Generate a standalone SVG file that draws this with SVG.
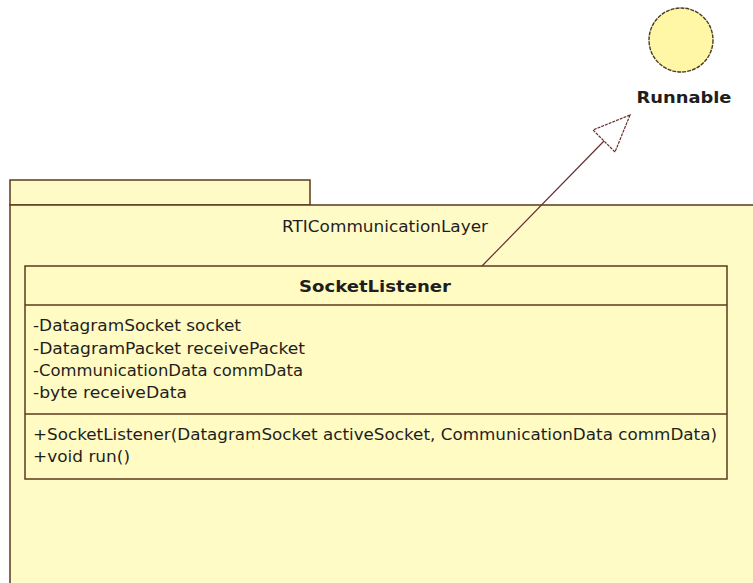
<svg xmlns="http://www.w3.org/2000/svg" width="753" height="583" viewBox="0 0 753 583">
  <style>
    .pkg { fill: #FFFBC6; stroke: #5C3A1E; stroke-width: 1.5; }
    .cls { fill: #FFFBC2; stroke: #5C3A1E; stroke-width: 1.5; }
    .sep { stroke: #5C3A1E; stroke-width: 1.5; }
    .txt { font-family: "DejaVu Sans", "Liberation Sans", sans-serif; font-size: 16.5px; fill: #1E1E1E; }
    .bold { font-weight: bold; }
    .edge { fill: none; stroke: #6A2E2E; stroke-width: 1.2; }
    .head { fill: #FFFFFF; stroke: #6A2E2E; stroke-width: 1.2; stroke-dasharray: 3 1; }
  </style>

  <rect width="753" height="583" fill="#FFFFFF"/>

  <!-- package RTICommunicationLayer -->
  <g id="pkg-RTICommunicationLayer">
    <rect class="pkg" x="10" y="180" width="300" height="25"/>
    <rect class="pkg" x="10" y="205" width="760" height="400"/>
    <text class="txt" x="385" y="232" text-anchor="middle" textLength="206" lengthAdjust="spacingAndGlyphs">RTICommunicationLayer</text>
  </g>

  <!-- interface Runnable (lollipop) -->
  <g id="iface-Runnable">
    <circle cx="681" cy="40" r="32" fill="#FFF6A6" stroke="#4A3A20" stroke-width="1.4" stroke-dasharray="4 1"/>
    <text class="txt bold" x="684" y="103" text-anchor="middle" textLength="95" lengthAdjust="spacingAndGlyphs">Runnable</text>
  </g>

  <!-- class SocketListener -->
  <g id="cls-SocketListener">
    <rect class="cls" x="25" y="266" width="702" height="213"/>
    <line class="sep" x1="25" y1="305" x2="727" y2="305"/>
    <line class="sep" x1="25" y1="414" x2="727" y2="414"/>
    <text class="txt bold" x="375" y="292" text-anchor="middle" textLength="152" lengthAdjust="spacingAndGlyphs">SocketListener</text>
    <text class="txt" x="33" y="331" textLength="208" lengthAdjust="spacingAndGlyphs">-DatagramSocket socket</text>
    <text class="txt" x="33" y="354" textLength="272" lengthAdjust="spacingAndGlyphs">-DatagramPacket receivePacket</text>
    <text class="txt" x="33" y="376" textLength="270" lengthAdjust="spacingAndGlyphs">-CommunicationData commData</text>
    <text class="txt" x="33" y="398" textLength="154" lengthAdjust="spacingAndGlyphs">-byte receiveData</text>
    <text class="txt" x="33" y="440" textLength="684" lengthAdjust="spacingAndGlyphs">+SocketListener(DatagramSocket activeSocket, CommunicationData commData)</text>
    <text class="txt" x="33" y="462" textLength="97" lengthAdjust="spacingAndGlyphs">+void run()</text>
  </g>

  <!-- realization SocketListener -> Runnable -->
  <g id="connectors">
    <line class="edge" x1="482" y1="266" x2="604" y2="141"/>
    <polygon class="head" points="630,115 593,130 615,152"/>
  </g>
</svg>
